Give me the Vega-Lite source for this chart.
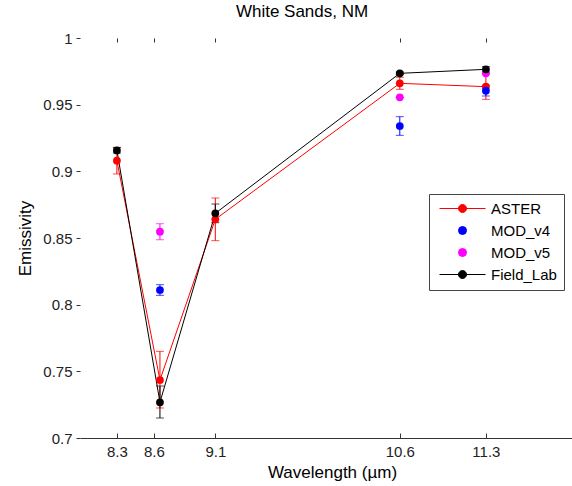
{
  "$schema": "https://vega.github.io/schema/vega-lite/v6.json",
  "width": 492,
  "height": 400,
  "autosize": {"type": "none"},
  "padding": {"left": 80, "top": 38, "right": 0, "bottom": 48},
  "title": {"text": "White Sands, NM", "fontSize": 17, "fontWeight": "normal", "font": "Liberation Sans", "color": "#000", "anchor": "middle", "dx": -24, "offset": 10},
  "config": {
    "view": {"stroke": null},
    "axis": {"labelFont": "Liberation Sans", "titleFont": "Liberation Sans", "labelFontSize": 15, "titleFontSize": 17, "titleFontWeight": "normal", "labelColor": "#222", "titleColor": "#000", "domainColor": "#333", "tickColor": "#333", "grid": false},
    "legend": {"title": null, "orient": "none", "legendX": 349, "legendY": 156, "strokeColor": "#444", "fillColor": "#ffffff", "padding": 7, "symbolSize": 64, "symbolStrokeWidth": 1, "symbolOpacity": 1, "labelFontSize": 15, "labelFont": "Liberation Sans", "labelColor": "#000", "labelOffset": 21, "rowPadding": 6, "symbolOffset": 19}
  },
  "data": {"values": [
    {"series": "ASTER", "wl": 8.3, "e": 0.908, "lo": 0.898, "hi": 0.918},
    {"series": "ASTER", "wl": 8.65, "e": 0.7435, "lo": 0.7225, "hi": 0.765},
    {"series": "ASTER", "wl": 9.1, "e": 0.864, "lo": 0.848, "hi": 0.88},
    {"series": "ASTER", "wl": 10.6, "e": 0.966, "lo": 0.9615, "hi": 0.9705},
    {"series": "ASTER", "wl": 11.3, "e": 0.9635, "lo": 0.954, "hi": 0.973},
    {"series": "MOD_v4", "wl": 8.65, "e": 0.811, "lo": 0.807, "hi": 0.815},
    {"series": "MOD_v4", "wl": 10.6, "e": 0.934, "lo": 0.927, "hi": 0.941},
    {"series": "MOD_v4", "wl": 11.3, "e": 0.9605, "lo": 0.9565, "hi": 0.9645},
    {"series": "MOD_v5", "wl": 8.65, "e": 0.8547, "lo": 0.8487, "hi": 0.8607},
    {"series": "MOD_v5", "wl": 10.6, "e": 0.9555, "lo": 0.9555, "hi": 0.9555},
    {"series": "MOD_v5", "wl": 11.3, "e": 0.9735, "lo": 0.9735, "hi": 0.9735},
    {"series": "Field_Lab", "wl": 8.3, "e": 0.9157, "lo": 0.9137, "hi": 0.9177},
    {"series": "Field_Lab", "wl": 8.65, "e": 0.7268, "lo": 0.715, "hi": 0.739},
    {"series": "Field_Lab", "wl": 9.1, "e": 0.8685, "lo": 0.8615, "hi": 0.8755},
    {"series": "Field_Lab", "wl": 10.6, "e": 0.9735, "lo": 0.9725, "hi": 0.9745},
    {"series": "Field_Lab", "wl": 11.3, "e": 0.9765, "lo": 0.9745, "hi": 0.9785}
  ]},
  "resolve": {"axis": {"x": "independent"}},
  "layer": [
    {
      "mark": {"type": "errorbar", "ticks": {"size": 8, "thickness": 1}, "thickness": 1},
      "encoding": {
        "x": {"field": "wl", "type": "quantitative", "scale": {"domain": [8.024, 11.898]}, "axis": null},
        "y": {"field": "lo", "type": "quantitative", "scale": {"domain": [0.7, 1]}, "axis": {"orient": "left", "values": [0.7, 0.75, 0.8, 0.85, 0.9, 0.95, 1], "format": ".2~f", "title": "Emissivity", "domain": false, "tickSize": 4, "labelPadding": 4, "titlePadding": 8}},
        "y2": {"field": "hi"},
        "color": {"field": "series", "type": "nominal", "scale": {"domain": ["Field_Lab", "ASTER", "MOD_v4", "MOD_v5"], "range": ["#000000", "#ff0000", "#0000ff", "#ff00ff"]}, "legend": null}
      }
    },
    {
      "transform": [{"filter": {"field": "series", "oneOf": ["ASTER", "Field_Lab"]}}],
      "mark": {"type": "line", "strokeWidth": 1},
      "encoding": {
        "x": {"field": "wl", "type": "quantitative", "axis": {"orient": "top", "labels": false, "domain": false, "tickSize": -4, "values": [8.3, 8.6, 9.1, 10.6, 11.3], "title": null}},
        "y": {"field": "e", "type": "quantitative", "axis": {"orient": "left", "values": [0.7, 0.75, 0.8, 0.85, 0.9, 0.95, 1], "format": ".2~f", "title": "Emissivity", "domain": false, "tickSize": 4, "labelPadding": 4, "titlePadding": 8}},
        "color": {"field": "series", "type": "nominal", "legend": null}
      }
    },
    {
      "mark": {"type": "point", "filled": true, "size": 60, "opacity": 1},
      "encoding": {
        "x": {"field": "wl", "type": "quantitative", "axis": {"values": [8.3, 8.6, 9.1, 10.6, 11.3], "format": ".1f", "title": "Wavelength (µm)", "tickSize": -5, "labelPadding": 11, "titlePadding": 5, "titleX": 252}},
        "y": {"field": "e", "type": "quantitative", "axis": {"orient": "left", "values": [0.7, 0.75, 0.8, 0.85, 0.9, 0.95, 1], "format": ".2~f", "title": "Emissivity", "domain": false, "tickSize": 4, "labelPadding": 4, "titlePadding": 8}},
        "color": {"field": "series", "type": "nominal", "legend": null}
      }
    },
    {
      "mark": {"type": "point", "filled": true, "opacity": 0, "strokeWidth": 1},
      "encoding": {
        "fill": {"field": "series", "type": "nominal", "scale": {"domain": ["ASTER", "MOD_v4", "MOD_v5", "Field_Lab"], "range": ["#ff0000", "#0000ff", "#ff00ff", "#000000"]}},
        "stroke": {"field": "series", "type": "nominal", "scale": {"domain": ["ASTER", "MOD_v4", "MOD_v5", "Field_Lab"], "range": ["#ff0000", "#0000ff", "#ff00ff", "#000000"]}},
        "shape": {"field": "series", "type": "nominal", "scale": {"domain": ["ASTER", "MOD_v4", "MOD_v5", "Field_Lab"], "range": ["M-5.75,0H5.75M-1,0A1,1,0,1,1,1,0A1,1,0,1,1,-1,0Z", "circle", "circle", "M-5.75,0H5.75M-1,0A1,1,0,1,1,1,0A1,1,0,1,1,-1,0Z"]}}
      }
    }
  ]
}
